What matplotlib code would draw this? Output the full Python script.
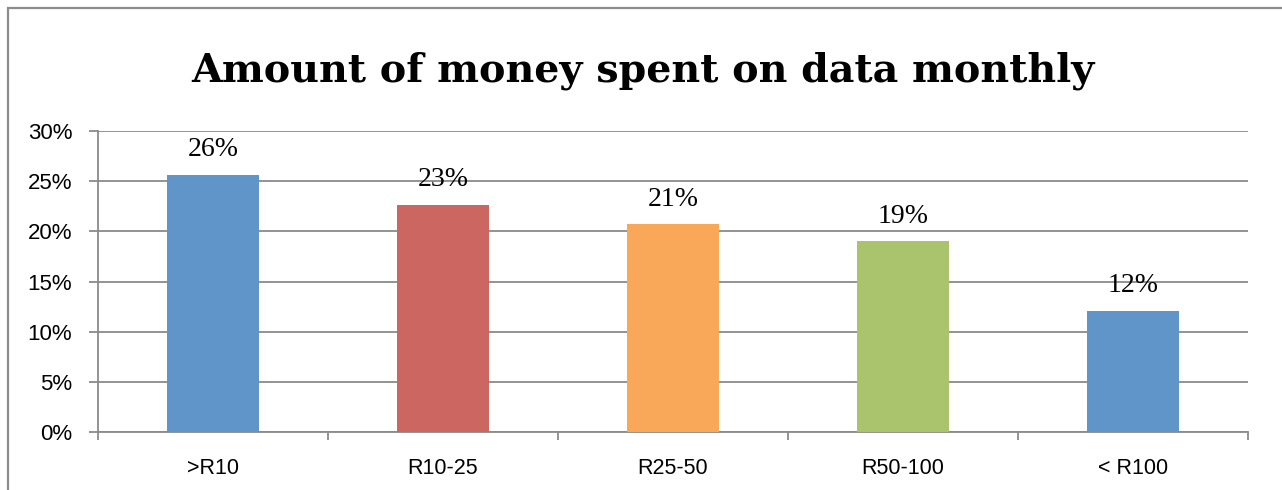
import matplotlib.pyplot as plt
from matplotlib.patches import Rectangle
from matplotlib.ticker import FuncFormatter

# datos
categorias = ['>R10', 'R10-25', 'R25-50', 'R50-100', '< R100']
valores = [25.6, 22.6, 20.7, 19.0, 12.1]
etiquetas = ['26%', '23%', '21%', '19%', '12%']
colores = ['#6095C9', '#CB6661', '#F8A858', '#A9C46C', '#6095C9']

W, H = 1282, 490
fig = plt.figure(figsize=(W / 100, H / 100), dpi=100)
fig.patch.set_facecolor('white')

# marco exterior del grafico
fig.patches.append(Rectangle((8 / W, -0.1), 1.2, 1.1 - 8 / H, transform=fig.transFigure,
                             fill=False, edgecolor='#8c8c8c', linewidth=1.6))

ax = fig.add_axes([98 / W, (H - 432) / H, (1248 - 98) / W, (432 - 131) / H])

x = range(len(categorias))
ax.bar(x, valores, width=0.4, color=colores, zorder=3)

for xi, v, lab in zip(x, valores, etiquetas):
    ax.annotate(lab, (xi, v), xytext=(0, 13.5), textcoords='offset points',
                ha='center', va='baseline', fontsize=20, family='Liberation Serif')

ax.set_xlim(-0.5, len(categorias) - 0.5)
ax.set_ylim(0, 30)
ax.set_yticks(range(0, 31, 5))
ax.yaxis.set_major_formatter(FuncFormatter(lambda v, p: f'{v:.0f}%'))
ax.set_xticks(list(x))
ax.set_xticklabels(categorias)
ax.set_xticks([i - 0.5 for i in range(len(categorias) + 1)], minor=True)

ax.grid(axis='y', color='#8a8a8a', linewidth=1.3, zorder=0)
ax.tick_params(axis='y', length=6.5, width=1.3, color='#8a8a8a', pad=12,
               labelsize=16, labelcolor='black')
ax.tick_params(axis='x', which='major', length=0, pad=19, labelsize=15.5)
ax.tick_params(axis='x', which='minor', length=6, width=1.3, color='#8a8a8a')
for lbl in ax.get_xticklabels() + ax.get_yticklabels():
    lbl.set_family('Liberation Sans')

for s in ['top', 'right']:
    ax.spines[s].set_visible(False)
for s in ['left', 'bottom']:
    ax.spines[s].set_color('#8a8a8a')
    ax.spines[s].set_linewidth(1.3)

fig.text(643 / W, 1 - 82 / H, 'Amount of money spent on data monthly', ha='center',
         va='baseline', fontsize=28.5, fontweight='bold', family='DejaVu Serif')

fig.savefig('out.png', dpi=100)
